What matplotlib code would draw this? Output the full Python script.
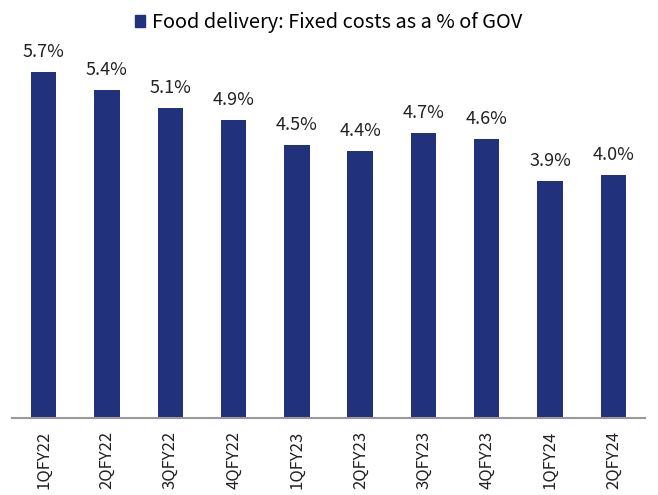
import matplotlib.pyplot as plt
from matplotlib.patches import Patch

plt.rcParams['font.family'] = ['Noto Sans CJK KR', 'DejaVu Sans']

quarters = ["1QFY22", "2QFY22", "3QFY22", "4QFY22", "1QFY23",
            "2QFY23", "3QFY23", "4QFY23", "1QFY24", "2QFY24"]
fixed_cost_pct = [5.7, 5.4, 5.1, 4.9, 4.5, 4.4, 4.7, 4.6, 3.9, 4.0]

bar_color = "#22317c"

fig = plt.figure(figsize=(6.58, 4.95), dpi=100)
ax = fig.add_axes([12 / 658, 77 / 495, 633 / 658, 388 / 495])

x = range(len(quarters))
bars = ax.bar(x, fixed_cost_pct, width=0.4, color=bar_color)
for rect, v in zip(bars, fixed_cost_pct):
    ax.annotate(f"{v:.1f}%", (rect.get_x() + rect.get_width() / 2, v),
                xytext=(0, 8), textcoords="offset points",
                ha="center", va="bottom", fontsize=13, color="#222222")

ax.set_xlim(-0.5, len(quarters) - 0.5)
ax.set_ylim(0, 6.39)
ax.set_xticks(list(x))
ax.set_xticklabels(quarters, rotation=90, fontsize=12, color="#222222")
ax.tick_params(axis="x", length=0, pad=9)
ax.set_yticks([])
for side in ("top", "right", "left"):
    ax.spines[side].set_visible(False)
ax.spines["bottom"].set_color("#999999")
ax.spines["bottom"].set_linewidth(1.5)

fig.legend(handles=[Patch(color=bar_color)],
           labels=["Food delivery: Fixed costs as a % of GOV"],
           loc="upper center", bbox_to_anchor=(0.5, 1.012), frameon=False,
           fontsize=14.4, handlelength=0.5, handleheight=0.5,
           handletextpad=0.35)

fig.savefig("out.png", dpi=100)
